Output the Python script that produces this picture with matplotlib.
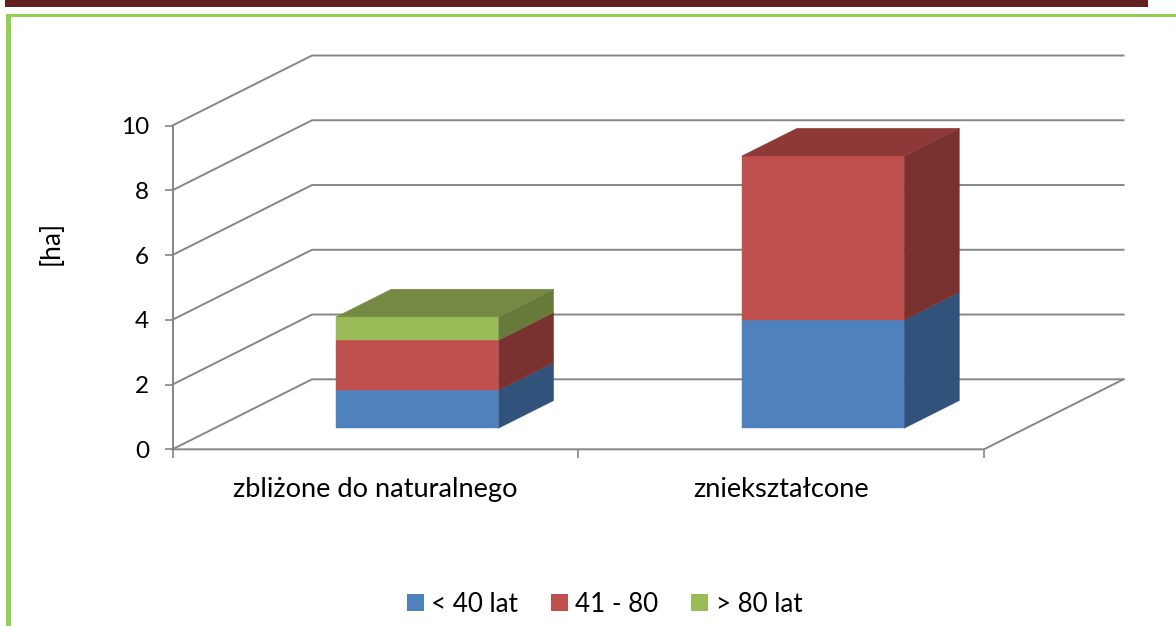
#!/usr/bin/env python
# -*- coding: utf-8 -*-

import matplotlib
matplotlib.use("Agg")
import matplotlib.pyplot as plt
from matplotlib.patches import Patch, Rectangle

categories = ["zbliżone do naturalnego", "zniekształcone"]
series_names = ["< 40 lat", "41 - 80", "> 80 lat"]
under_40 = [1.17, 3.34]
from_41_to_80 = [1.55, 5.07]
over_80 = [0.72, 0.0]
y_ticks = [0, 2, 4, 6, 8, 10]

W, H = 1176, 626
GRID = "#868686"
FRONT = ["#4F81BD", "#C0504D", "#9BBB59"]
SIDE = ["#31527A", "#7A3230", "#667A3A"]
TOP = ["#3F6797", "#8E3937", "#748A43"]

plt.rcParams["font.family"] = ["Lato", "DejaVu Sans"]

fig = plt.figure(figsize=(W / 100, H / 100), dpi=100)

# dark band and green frame of the page
def page_rect(x0, y0, x1, y1, color):
    fig.add_artist(Rectangle((x0 / W, 1 - y1 / H), (x1 - x0) / W, (y1 - y0) / H,
                             transform=fig.transFigure, color=color, lw=0))

page_rect(5, 0, 1148, 7, "#62211F")
page_rect(6, 14, W, 17, "#92D050")
page_rect(6, 14, 11, H, "#92D050")

ax = fig.add_axes([172.5 / W, 1 - 449.3 / H, 811.5 / W, 323.8 / H])
ax.set_xlim(0, 2)
ax.set_ylim(0, 10)
for s in ax.spines.values():
    s.set_visible(False)
ax.patch.set_visible(False)

# depth of the plot box, in data units (140 px right, 70 px up)
DX = 139.5 / 405.75
DY = 70 / 32.38

def proj(x, y, d):
    return x + d * DX, y + d * DY

def face(points, color):
    xs, ys = zip(*[proj(*p) for p in points])
    ax.fill(xs, ys, color=color, lw=0.3, clip_on=False, zorder=3)

def wall_line(points):
    xs, ys = zip(*[proj(*p) for p in points])
    ax.plot(xs, ys, color=GRID, lw=1.4, clip_on=False, zorder=1)

for v in y_ticks:
    wall_line([(0, v, 0), (0, v, 1), (2, v, 1)])
wall_line([(0, 0, 0), (2, 0, 0), (2, 0, 1)])
wall_line([(0, 0, 0), (0, 10, 0)])

# stacked boxes
d0, d1 = 0.3, 0.696
half = 0.2
stacks = [under_40, from_41_to_80, over_80]
for i in range(len(categories)):
    x0, x1 = i + 0.5 - half, i + 0.5 + half
    bottom = 0
    last = max(j for j in range(3) if stacks[j][i] > 0)
    for j in range(last + 1):
        top = bottom + stacks[j][i]
        face([(x1, bottom, d0), (x1, bottom, d1), (x1, top, d1), (x1, top, d0)], SIDE[j])
        face([(x0, bottom, d0), (x1, bottom, d0), (x1, top, d0), (x0, top, d0)], FRONT[j])
        if j == last:
            face([(x0, top, d0), (x1, top, d0), (x1, top, d1), (x0, top, d1)], TOP[j])
        bottom = top

ax.set_yticks(y_ticks)
ax.tick_params(axis="y", length=6, width=1.2, color=GRID, labelsize=17.5, pad=11)
ax.set_xticks([0, 1, 2])
ax.set_xticklabels(["", "", ""])
ax.tick_params(axis="x", which="major", length=6.5, width=1.2, color=GRID)
ax.set_xticks([0.5, 1.5], minor=True)
ax.set_xticklabels(categories, minor=True, fontsize=19.6)
ax.tick_params(axis="x", which="minor", length=0, pad=20)

ax.set_ylabel("[ha]", fontsize=19)
ax.yaxis.set_label_coords((64 - 172.5) / 811.5, (449.3 - 243) / 323.8)

handles = [Patch(color=c, lw=0) for c in FRONT]
fig.legend(handles, series_names, loc="center", bbox_to_anchor=(604.5 / W, 1 - 604 / H),
           ncol=3, frameon=False, fontsize=18.7, handlelength=0.65, handleheight=0.65,
           handletextpad=0.3, columnspacing=1.25, borderpad=0, borderaxespad=0)

fig.savefig("out.png", dpi=100)
